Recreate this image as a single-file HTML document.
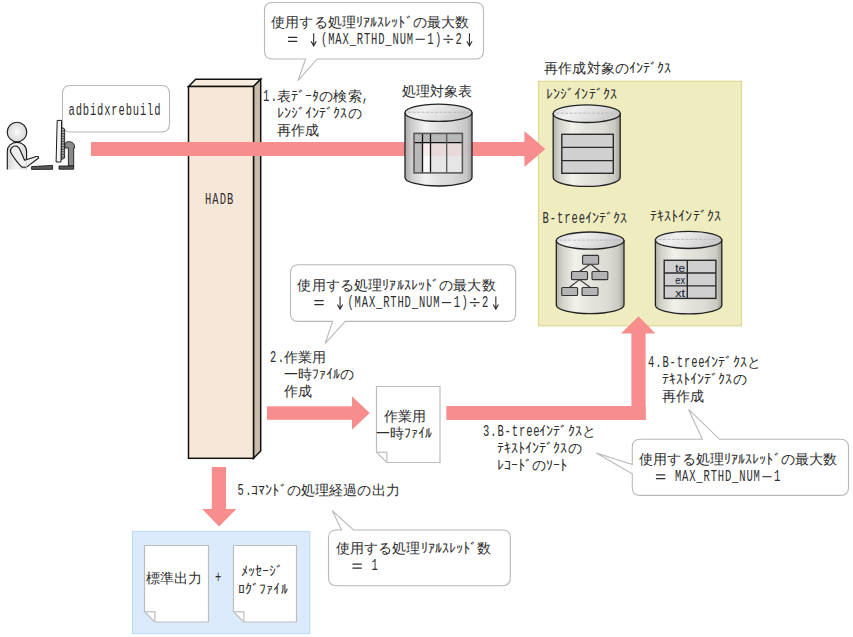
<!DOCTYPE html>
<html lang="ja"><head><meta charset="utf-8"><title>adbidxrebuild</title>
<style>
html,body{margin:0;padding:0;background:#fff;width:853px;height:637px;overflow:hidden}
svg{display:block;font-family:"Liberation Sans",sans-serif}
</style></head><body>
<svg width="853" height="637" viewBox="0 0 853 637">

<defs>
 <linearGradient id="cyl" x1="0" x2="1" y1="0" y2="0">
  <stop offset="0" stop-color="#a8a8a8"/>
  <stop offset="0.1" stop-color="#cdcdcd"/>
  <stop offset="0.3" stop-color="#f2f2f2"/>
  <stop offset="0.5" stop-color="#e0e0e0"/>
  <stop offset="0.72" stop-color="#d8d8d8"/>
  <stop offset="0.92" stop-color="#c6c6c6"/>
  <stop offset="1" stop-color="#9c9c9c"/>
 </linearGradient>
 <linearGradient id="cylY" x1="0" x2="1" y1="0" y2="0">
  <stop offset="0" stop-color="#b0b0a8"/>
  <stop offset="0.08" stop-color="#d0d0c8"/>
  <stop offset="0.28" stop-color="#f2f2ec"/>
  <stop offset="0.45" stop-color="#e6e6de"/>
  <stop offset="0.75" stop-color="#dcdcd4"/>
  <stop offset="0.92" stop-color="#cacac2"/>
  <stop offset="1" stop-color="#a0a098"/>
 </linearGradient>
 <linearGradient id="cyltop" x1="0" x2="1" y1="0" y2="0.3">
  <stop offset="0" stop-color="#d4d4d4"/>
  <stop offset="0.35" stop-color="#f0f0f0"/>
  <stop offset="0.7" stop-color="#dedede"/>
  <stop offset="1" stop-color="#cacaca"/>
 </linearGradient>
 <radialGradient id="head" cx="0.5" cy="0.5" r="0.5">
  <stop offset="0" stop-color="#fafafa"/>
  <stop offset="1" stop-color="#d8d8d8"/>
 </radialGradient>
 <linearGradient id="body" x1="0" x2="1" y1="0" y2="0">
  <stop offset="0" stop-color="#d8d8d8"/>
  <stop offset="0.5" stop-color="#f4f4f4"/>
  <stop offset="1" stop-color="#d8d8d8"/>
 </linearGradient>
</defs>

<path d="M70.5,85.5 L161.5,85.5 Q169.5,85.5 169.5,93.5 L169.5,124 Q169.5,132 161.5,132 L70.5,132 Q62.5,132 62.5,124 L62.5,93.5 Q62.5,85.5 70.5,85.5 Z" fill="#fff" stroke="#b8b8b8" stroke-width="1.1"/>
<text transform="translate(68.50,114.80) scale(1,1.5)" x="0" y="0" font-family="Liberation Mono" font-size="10.5" textLength="92.04" lengthAdjust="spacing" fill="#2e2e2e">adbidxrebuild</text>
<g stroke="#1a1a1a" stroke-width="1.15" stroke-linejoin="round">
 <path d="M7.3,169.6 L7.3,151.2 C7.3,146 11.5,142.3 16.9,142.3 C22.3,142.3 26.6,146 26.6,151.6 L26.6,169.6 Z" fill="url(#body)" stroke="none"/>
 <path d="M7.3,169.6 L7.3,151.2 C7.3,146 11.5,142.3 16.9,142.3 C22.3,142.3 26.6,146 26.6,151.6 L26.6,160" fill="none"/>
 <path d="M10.5,152 C10,147 14.5,145.2 17.3,146.4 C18.6,147 19.2,148 19.8,149.2 L24.6,160.2 L36.2,156.5 Q39.6,156.2 38.3,158.3 L26.6,167.1 L22.6,167.3 C20,166 13,157 10.5,152 Z" fill="#eeeeee"/>
 <path d="M26.4,160.8 V169.4" stroke="#cfcfcf" stroke-width="0.8"/>
 <circle cx="17" cy="132" r="9.8" fill="url(#head)"/>
 <path d="M31.6,166.6 L52.6,165.4 L52.6,169.3 L31.6,169.4 Z" fill="#5a5a5a" stroke-width="0.9"/>
 <path d="M64.8,143.5 C66,141.5 70,141 72.5,142.6 C74,143.6 74.6,145.5 74.6,148 L73.7,148 L73.7,166 L68.4,166 L68.4,148 L64.8,148 Z" fill="#8a8a8a" stroke-width="0.9"/>
 <path d="M59,166 L73.7,166 L73.7,169.2 L59,169.2 Z" fill="#5a5a5a" stroke-width="0.9"/>
 <path d="M61.6,127.5 L64.6,129 L64.6,158 L60.8,160 Z" fill="#b0b0b0" stroke-width="0.9"/>
 <path d="M57.2,120.4 L61.6,120.4 L61,162 L56.1,162 Z" fill="#f4f4f4" stroke-width="1"/>
</g>
<g stroke="#222" stroke-width="0.8">
 <path d="M61.8,131 H64.4 M61.7,133.6 H64.4 M61.6,136.2 H64.4 M61.5,138.8 H64.4 M61.4,141.4 H64.4 M61.3,144 H64.4 M61.2,146.6 H64.4 M61.1,149.2 H64.4 M61,151.8 H64.4 M60.9,154.4 H64.4 M60.8,157 H64.4"/>
</g>
<path d="M272.5,2.5 L475.5,2.5 Q483.5,2.5 483.5,10.5 L483.5,51 Q483.5,59 475.5,59 L317.2,59 L298,80.6 L305.6,59 L272.5,59 Q264.5,59 264.5,51 L264.5,10.5 Q264.5,2.5 272.5,2.5 Z" fill="#fff" stroke="#b8b8b8" stroke-width="1.1"/>
<text x="278.08 292.24 306.40 320.56 334.72 348.88 359.50 366.58 373.66 380.74 387.82 394.90 401.98 409.06 419.68 433.84 448.00 462.16" y="26.60" font-size="14" text-anchor="middle" fill="#2e2e2e">使用する処理ﾘｱﾙｽﾚｯﾄﾞの最大数</text>
<path d="M287.96,37.40 H297.26 M287.96,41.30 H297.26" stroke="#2e2e2e" stroke-width="1.2"/>
<path d="M313.68,33.20 V45.80 M311.08,41.20 L313.68,45.80 L316.28,41.20" fill="none" stroke="#2e2e2e" stroke-width="1.1"/>
<text transform="translate(321.06,43.60) scale(1,1.5)" x="0" y="0" font-family="Liberation Mono" font-size="10.5" textLength="92.04" lengthAdjust="spacing" fill="#2e2e2e">(MAX_RTHD_NUM</text>
<path d="M415.60,39.30 H424.80" stroke="#2e2e2e" stroke-width="1.1"/>
<text transform="translate(427.26,43.60) scale(1,1.5)" x="0" y="0" font-family="Liberation Mono" font-size="10.5" textLength="14.16" lengthAdjust="spacing" fill="#2e2e2e">1)</text>
<path d="M443.42,39.30 H453.22" stroke="#2e2e2e" stroke-width="1.1"/><rect x="447.32" y="34.90" width="1.9" height="1.9" fill="#2e2e2e"/><rect x="447.32" y="41.30" width="1.9" height="1.9" fill="#2e2e2e"/>
<text transform="translate(455.58,43.60) scale(1,1.5)" x="0" y="0" font-family="Liberation Mono" font-size="10.5" textLength="7.08" lengthAdjust="spacing" fill="#2e2e2e">2</text>
<path d="M469.44,33.20 V45.80 M466.84,41.20 L469.44,45.80 L472.04,41.20" fill="none" stroke="#2e2e2e" stroke-width="1.1"/>
<g stroke="#111" stroke-width="1.5" stroke-linejoin="miter">
 <path d="M188.5,86.5 L195.7,79.3 L260.7,79.3 L253.5,86.5 Z" fill="#F8ECDF"/>
 <path d="M253.5,86.5 L260.7,79.3 L260.7,451 L253.5,458.3 Z" fill="#C8BBAA"/>
 <rect x="188.5" y="86.5" width="65" height="371.8" fill="#F7E7D8"/>
</g>
<text transform="translate(205.00,204.00) scale(1,1.5)" x="0" y="0" font-family="Liberation Mono" font-size="10.5" textLength="28.32" lengthAdjust="spacing" fill="#2e2e2e">HADB</text>
<text transform="translate(263.00,100.60) scale(1,1.5)" x="0" y="0" font-family="Liberation Mono" font-size="10.5" textLength="14.16" lengthAdjust="spacing" fill="#2e2e2e">1.</text>
<text x="283.74 294.36 301.44 308.52 315.60 326.22 340.38 354.54" y="100.60" font-size="14" text-anchor="middle" fill="#2e2e2e">表ﾃﾞｰﾀの検索</text>
<text transform="translate(362.12,100.60) scale(1,1.5)" x="0" y="0" font-family="Liberation Mono" font-size="10.5" textLength="7.08" lengthAdjust="spacing" fill="#2e2e2e">,</text>
<text x="280.20 287.28 294.36 301.44 308.52 315.60 322.68 329.76 336.84 343.92 354.54" y="117.60" font-size="14" text-anchor="middle" fill="#2e2e2e">ﾚﾝｼﾞｲﾝﾃﾞｸｽの</text>
<text x="283.74 297.90 312.06" y="134.60" font-size="14" text-anchor="middle" fill="#2e2e2e">再作成</text>
<text x="408.58 422.74 436.90 451.06 465.22" y="96.30" font-size="14" text-anchor="middle" fill="#2e2e2e">処理対象表</text>
<rect x="91" y="142" width="434" height="14" fill="#F88D8D"/>
<path d="M524.6,131.6 L545.3,148.9 L524.6,166.5 Z" fill="#F88D8D"/>
<path d="M405,112.8 L405,177.4 A33.5,8.6 0 0 0 472,177.4 L472,112.8 Z" fill="url(#cyl)" stroke="#222" stroke-width="1.3"/><ellipse cx="438.5" cy="112.8" rx="33.5" ry="8.6" fill="url(#cyltop)" stroke="#222" stroke-width="1.3"/><path d="M408,112.3 H469" stroke="#b8b8b8" stroke-width="0.9" stroke-dasharray="3 1.5"/>
<rect x="405.6" y="142" width="65.8" height="14" fill="#F88D8D" fill-opacity="0.07"/>
<g stroke="none">
 <rect x="414" y="133.4" width="48.4" height="39.5" fill="#e6e6e6"/>
 <rect x="422.5" y="142.7" width="8" height="30.2" fill="#fafafa"/>
 <rect x="414" y="133.4" width="48.4" height="9.3" fill="#b8b8b8"/>
 <rect x="414" y="142.7" width="8.5" height="30.2" fill="#b8b8b8"/>
</g>
<rect x="422.8" y="143.3" width="39" height="12.7" fill="#F88D8D" fill-opacity="0.13"/>
<g stroke="#111" stroke-width="1.3">
 <line x1="414" y1="142.7" x2="462.4" y2="142.7"/>
 <line x1="422.5" y1="133.4" x2="422.5" y2="172.9"/>
 <line x1="430.5" y1="133.4" x2="430.5" y2="172.9"/>
 <line x1="446.7" y1="133.4" x2="446.7" y2="172.9" stroke="#555"/>
 <rect x="414" y="133.4" width="48.4" height="39.5" fill="none" stroke="#555" stroke-width="1.5"/>
</g>
<rect x="538.5" y="81.3" width="203" height="244.5" fill="#EFEDC0" stroke="#DCDA90" stroke-width="1.2"/>
<text x="551.08 565.24 579.40 593.56 607.72 621.88 632.50 639.58 646.66 653.74 660.82 667.90" y="73.30" font-size="14" text-anchor="middle" fill="#2e2e2e">再作成対象のｲﾝﾃﾞｸｽ</text>
<text x="549.54 556.62 563.70 570.78 577.86 584.94 592.02 599.10 606.18 613.26" y="99.00" font-size="14" text-anchor="middle" fill="#2e2e2e">ﾚﾝｼﾞｲﾝﾃﾞｸｽ</text>
<path d="M524.6,131.6 L545.3,148.9 L524.6,166.5 Z" fill="#F88D8D"/>
<path d="M553.2,113.7 L553.2,177.6 A33.5,8.8 0 0 0 620.2,177.6 L620.2,113.7 Z" fill="url(#cylY)" stroke="#222" stroke-width="1.3"/><ellipse cx="586.7" cy="113.7" rx="33.5" ry="8.8" fill="url(#cyltop)" stroke="#222" stroke-width="1.3"/><path d="M556.2,113.2 H617.2" stroke="#b8b8b8" stroke-width="0.9" stroke-dasharray="3 1.5"/>
<g stroke="#2a2a2a" stroke-width="1.4">
 <rect x="561.8" y="134.3" width="51.5" height="39" fill="#d0d0d0"/>
 <line x1="561.8" y1="147.4" x2="613.3" y2="147.4"/>
 <line x1="561.8" y1="160.6" x2="613.3" y2="160.6"/>
</g>
<text transform="translate(542.50,223.00) scale(1,1.5)" x="0" y="0" font-family="Liberation Mono" font-size="10.5" textLength="42.48" lengthAdjust="spacing" fill="#2e2e2e">B-tree</text>
<text x="588.02 595.10 602.18 609.26 616.34 623.42" y="223.00" font-size="14" text-anchor="middle" fill="#2e2e2e">ｲﾝﾃﾞｸｽ</text>
<path d="M556.3,240.6 L556.3,305.09999999999997 A33.85000000000002,8.6 0 0 0 624,305.09999999999997 L624,240.6 Z" fill="url(#cylY)" stroke="#222" stroke-width="1.3"/><ellipse cx="590.15" cy="240.6" rx="33.85000000000002" ry="8.6" fill="url(#cyltop)" stroke="#222" stroke-width="1.3"/><path d="M559.3,240.1 H621" stroke="#b8b8b8" stroke-width="0.9" stroke-dasharray="3 1.5"/>
<g stroke="#333" stroke-width="1.1" fill="#b4b4b4">
 <line x1="590.5" y1="264" x2="579.5" y2="271.5"/>
 <line x1="590.5" y1="264" x2="600" y2="271.5"/>
 <line x1="579.5" y1="279.6" x2="569.6" y2="287.3"/>
 <line x1="579.5" y1="279.6" x2="590" y2="287.3"/>
 <rect x="582.6" y="255.4" width="16" height="8.8" rx="1"/>
 <rect x="571.5" y="271.5" width="16" height="8.1" rx="1"/>
 <rect x="592" y="271.5" width="15.8" height="8.1" rx="1"/>
 <rect x="561.7" y="287.5" width="15.9" height="8" rx="1"/>
 <rect x="582" y="287.5" width="16" height="8" rx="1"/>
</g>
<text x="653.54 660.62 667.70 674.78 681.86 688.94 696.02 703.10 710.18 717.26" y="221.40" font-size="14" text-anchor="middle" fill="#2e2e2e">ﾃｷｽﾄｲﾝﾃﾞｸｽ</text>
<path d="M655.4,239.9 L655.4,305.2 A33.19999999999999,8.6 0 0 0 721.8,305.2 L721.8,239.9 Z" fill="url(#cylY)" stroke="#222" stroke-width="1.3"/><ellipse cx="688.5999999999999" cy="239.9" rx="33.19999999999999" ry="8.6" fill="url(#cyltop)" stroke="#222" stroke-width="1.3"/><path d="M658.4,239.4 H718.8" stroke="#b8b8b8" stroke-width="0.9" stroke-dasharray="3 1.5"/>
<g stroke="#2a2a2a" stroke-width="1.4">
 <rect x="664.2" y="260.3" width="51.7" height="38.1" fill="#d0d0d0"/>
 <line x1="664.2" y1="273" x2="715.9" y2="273"/>
 <line x1="664.2" y1="285.9" x2="715.9" y2="285.9"/>
 <line x1="687.3" y1="260.3" x2="687.3" y2="298.4"/>
</g>
<g font-family="Liberation Sans" font-size="11.5" fill="#14142e">
 <text x="675.3" y="272" textLength="9.8" lengthAdjust="spacingAndGlyphs">te</text><text x="675.3" y="284" textLength="9.8" lengthAdjust="spacingAndGlyphs">ex</text><text x="675.3" y="297.3" textLength="9.8" lengthAdjust="spacingAndGlyphs">xt</text>
</g>
<path d="M298.5,264.7 L507.70000000000005,264.7 Q515.7,264.7 515.7,272.7 L515.7,313.4 Q515.7,321.4 507.70000000000005,321.4 L345.3,321.4 L325.2,343.3 L332.6,321.4 L298.5,321.4 Q290.5,321.4 290.5,313.4 L290.5,272.7 Q290.5,264.7 298.5,264.7 Z" fill="#fff" stroke="#b8b8b8" stroke-width="1.1"/>
<text x="304.48 318.64 332.80 346.96 361.12 375.28 385.90 392.98 400.06 407.14 414.22 421.30 428.38 435.46 446.08 460.24 474.40 488.56" y="289.90" font-size="14" text-anchor="middle" fill="#2e2e2e">使用する処理ﾘｱﾙｽﾚｯﾄﾞの最大数</text>
<path d="M314.36,300.70 H323.66 M314.36,304.60 H323.66" stroke="#2e2e2e" stroke-width="1.2"/>
<path d="M340.08,296.50 V309.10 M337.48,304.50 L340.08,309.10 L342.68,304.50" fill="none" stroke="#2e2e2e" stroke-width="1.1"/>
<text transform="translate(347.46,306.90) scale(1,1.5)" x="0" y="0" font-family="Liberation Mono" font-size="10.5" textLength="92.04" lengthAdjust="spacing" fill="#2e2e2e">(MAX_RTHD_NUM</text>
<path d="M442.00,302.60 H451.20" stroke="#2e2e2e" stroke-width="1.1"/>
<text transform="translate(453.66,306.90) scale(1,1.5)" x="0" y="0" font-family="Liberation Mono" font-size="10.5" textLength="14.16" lengthAdjust="spacing" fill="#2e2e2e">1)</text>
<path d="M469.82,302.60 H479.62" stroke="#2e2e2e" stroke-width="1.1"/><rect x="473.72" y="298.20" width="1.9" height="1.9" fill="#2e2e2e"/><rect x="473.72" y="304.60" width="1.9" height="1.9" fill="#2e2e2e"/>
<text transform="translate(481.98,306.90) scale(1,1.5)" x="0" y="0" font-family="Liberation Mono" font-size="10.5" textLength="7.08" lengthAdjust="spacing" fill="#2e2e2e">2</text>
<path d="M495.84,296.50 V309.10 M493.24,304.50 L495.84,309.10 L498.44,304.50" fill="none" stroke="#2e2e2e" stroke-width="1.1"/>
<text transform="translate(270.00,361.60) scale(1,1.5)" x="0" y="0" font-family="Liberation Mono" font-size="10.5" textLength="14.16" lengthAdjust="spacing" fill="#2e2e2e">2.</text>
<text x="290.74 304.90 319.06" y="361.60" font-size="14" text-anchor="middle" fill="#2e2e2e">作業用</text>
<text x="290.74 304.90 315.52 322.60 329.68 336.76 347.38" y="378.60" font-size="14" text-anchor="middle" fill="#2e2e2e">一時ﾌｧｲﾙの</text>
<text x="290.74 304.90" y="395.60" font-size="14" text-anchor="middle" fill="#2e2e2e">作成</text>
<rect x="267" y="406.3" width="85.5" height="13.5" fill="#F88D8D"/>
<path d="M352,396.3 L369.7,412.9 L352,429.8 Z" fill="#F88D8D"/>
<path d="M376.5,386.5 L440,386.5 L440,462.5 L386.8,462.5 L376.5,452.2 Z" fill="#fff" stroke="#bdbdbd" stroke-width="1.2"/><path d="M376.5,452.2 L386.8,452.2 L386.8,462.5" fill="none" stroke="#c8c8c8" stroke-width="1.4"/>
<text x="391.08 405.24 419.40" y="420.90" font-size="14" text-anchor="middle" fill="#2e2e2e">作業用</text>
<text x="382.58 396.74 407.36 414.44 421.52 428.60" y="438.00" font-size="14" text-anchor="middle" fill="#2e2e2e">一時ﾌｧｲﾙ</text>
<rect x="446.4" y="406" width="199.2" height="14" fill="#F88D8D"/>
<rect x="631.4" y="333" width="14.2" height="87" fill="#F88D8D"/>
<path d="M621,333.6 L638.5,316.3 L655.5,333.6 Z" fill="#F88D8D"/>
<text transform="translate(483.00,435.60) scale(1,1.5)" x="0" y="0" font-family="Liberation Mono" font-size="10.5" textLength="56.64" lengthAdjust="spacing" fill="#2e2e2e">3.B-tree</text>
<text x="542.68 549.76 556.84 563.92 571.00 578.08 588.70" y="435.60" font-size="14" text-anchor="middle" fill="#2e2e2e">ｲﾝﾃﾞｸｽと</text>
<text x="500.20 507.28 514.36 521.44 528.52 535.60 542.68 549.76 556.84 563.92 574.54" y="452.60" font-size="14" text-anchor="middle" fill="#2e2e2e">ﾃｷｽﾄｲﾝﾃﾞｸｽの</text>
<text x="500.20 507.28 514.36 521.44 528.52 539.14 549.76 556.84 563.92" y="469.60" font-size="14" text-anchor="middle" fill="#2e2e2e">ﾚｺｰﾄﾞのｿｰﾄ</text>
<text transform="translate(648.00,366.60) scale(1,1.5)" x="0" y="0" font-family="Liberation Mono" font-size="10.5" textLength="56.64" lengthAdjust="spacing" fill="#2e2e2e">4.B-tree</text>
<text x="707.68 714.76 721.84 728.92 736.00 743.08 753.70" y="366.60" font-size="14" text-anchor="middle" fill="#2e2e2e">ｲﾝﾃﾞｸｽと</text>
<text x="665.20 672.28 679.36 686.44 693.52 700.60 707.68 714.76 721.84 728.92 739.54" y="383.60" font-size="14" text-anchor="middle" fill="#2e2e2e">ﾃｷｽﾄｲﾝﾃﾞｸｽの</text>
<text x="668.74 682.90 697.06" y="400.60" font-size="14" text-anchor="middle" fill="#2e2e2e">再作成</text>
<path d="M640.3,439.3 L702.4,439.3 L688.6,409.4 L719.6,439.3 L840.5,439.3 Q848.5,439.3 848.5,447.3 L848.5,487.4 Q848.5,495.4 840.5,495.4 L640.3,495.4 Q632.3,495.4 632.3,487.4 L632.3,473.8 L596.3,453 L632.3,464.4 L632.3,447.3 Q632.3,439.3 640.3,439.3 Z" fill="#fff" stroke="#b8b8b8" stroke-width="1.1"/>
<text x="646.08 660.24 674.40 688.56 702.72 716.88 727.50 734.58 741.66 748.74 755.82 762.90 769.98 777.06 787.68 801.84 816.00 830.16" y="464.00" font-size="14" text-anchor="middle" fill="#2e2e2e">使用する処理ﾘｱﾙｽﾚｯﾄﾞの最大数</text>
<path d="M655.96,474.80 H665.26 M655.96,478.70 H665.26" stroke="#2e2e2e" stroke-width="1.2"/>
<text transform="translate(674.90,481.00) scale(1,1.5)" x="0" y="0" font-family="Liberation Mono" font-size="10.5" textLength="84.96" lengthAdjust="spacing" fill="#2e2e2e">MAX_RTHD_NUM</text>
<path d="M762.36,476.70 H771.56" stroke="#2e2e2e" stroke-width="1.1"/>
<text transform="translate(774.02,481.00) scale(1,1.5)" x="0" y="0" font-family="Liberation Mono" font-size="10.5" textLength="7.08" lengthAdjust="spacing" fill="#2e2e2e">1</text>
<rect x="211.8" y="467" width="14.2" height="42.5" fill="#F88D8D"/>
<path d="M202.1,508.9 L219.1,526.4 L236.4,508.9 Z" fill="#F88D8D"/>
<text transform="translate(237.50,495.30) scale(1,1.5)" x="0" y="0" font-family="Liberation Mono" font-size="10.5" textLength="14.16" lengthAdjust="spacing" fill="#2e2e2e">5.</text>
<text x="254.70 261.78 268.86 275.94 283.02 293.64 307.80 321.96 336.12 350.28 364.44 378.60 392.76" y="495.30" font-size="14" text-anchor="middle" fill="#2e2e2e">ｺﾏﾝﾄﾞの処理経過の出力</text>
<path d="M336.5,530 L341.6,530 L332.2,510.6 L353.5,530 L502.3,530 Q510.3,530 510.3,538 L510.3,577.7 Q510.3,585.7 502.3,585.7 L336.5,585.7 Q328.5,585.7 328.5,577.7 L328.5,538 Q328.5,530 336.5,530 Z" fill="#fff" stroke="#b8b8b8" stroke-width="1.1"/>
<text x="342.58 356.74 370.90 385.06 399.22 413.38 424.00 431.08 438.16 445.24 452.32 459.40 466.48 473.56 484.18" y="553.40" font-size="14" text-anchor="middle" fill="#2e2e2e">使用する処理ﾘｱﾙｽﾚｯﾄﾞ数</text>
<path d="M352.46,564.20 H361.76 M352.46,568.10 H361.76" stroke="#2e2e2e" stroke-width="1.2"/>
<text transform="translate(371.40,570.40) scale(1,1.5)" x="0" y="0" font-family="Liberation Mono" font-size="10.5" textLength="7.08" lengthAdjust="spacing" fill="#2e2e2e">1</text>
<rect x="132.5" y="531.5" width="177.2" height="102" fill="#DCEBFB" stroke="#BCDCF8" stroke-width="1.2"/>
<path d="M144.5,545.5 L208.5,545.5 L208.5,622 L154.8,622 L144.5,611.7 Z" fill="#fff" stroke="#bdbdbd" stroke-width="1.2"/><path d="M144.5,611.7 L154.8,611.7 L154.8,622" fill="none" stroke="#c8c8c8" stroke-width="1.4"/>
<path d="M233.5,545.5 L296.5,545.5 L296.5,622 L243.8,622 L233.5,611.7 Z" fill="#fff" stroke="#bdbdbd" stroke-width="1.2"/><path d="M233.5,611.7 L243.8,611.7 L243.8,622" fill="none" stroke="#c8c8c8" stroke-width="1.4"/>
<text x="152.58 166.74 180.90 195.06" y="583.00" font-size="14" text-anchor="middle" fill="#2e2e2e">標準出力</text>
<text transform="translate(215.00,582.00) scale(1,1.5)" x="0" y="0" font-family="Liberation Mono" font-size="10.5" textLength="7.08" lengthAdjust="spacing" fill="#2e2e2e">+</text>
<text x="244.04 251.12 258.20 265.28 272.36 279.44" y="575.50" font-size="14" text-anchor="middle" fill="#2e2e2e">ﾒｯｾｰｼﾞ</text>
<text x="241.54 248.62 255.70 262.78 269.86 276.94 284.02" y="594.00" font-size="14" text-anchor="middle" fill="#2e2e2e">ﾛｸﾞﾌｧｲﾙ</text>
</svg>
</body></html>
